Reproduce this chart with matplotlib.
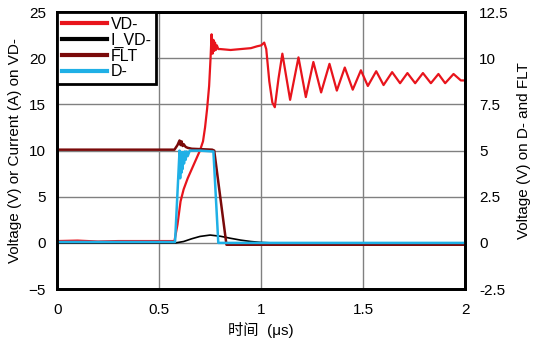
import matplotlib
matplotlib.use("Agg")
import matplotlib.pyplot as plt

plt.rcParams['font.family'] = ['Liberation Sans', 'Noto Sans CJK SC', 'DejaVu Sans']

# VD- (left axis, V)
vd_t = [0.0, 0.1, 0.2, 0.3, 0.4, 0.5, 0.575, 0.59, 0.605, 0.62, 0.64, 0.66, 0.68, 0.70,
        0.715, 0.725, 0.735, 0.745, 0.752, 0.757, 0.762, 0.766, 0.770, 0.774, 0.778,
        0.783, 0.79, 0.80, 0.85, 0.90, 0.95, 0.98, 1.0, 1.015, 1.025, 1.04, 1.055,
        1.067, 1.085, 1.104, 1.142, 1.183, 1.219, 1.256, 1.294, 1.335, 1.371, 1.410,
        1.449, 1.489, 1.523, 1.564, 1.600, 1.642, 1.681, 1.717, 1.755, 1.793, 1.832,
        1.869, 1.902, 1.943, 1.979, 2.0]
vd_v = [0.2, 0.25, 0.15, 0.2, 0.2, 0.2, 0.2, 2.0, 4.5, 5.8, 7.0, 8.0, 9.0, 10.0,
        11.0, 12.5, 14.5, 17.0, 20.0, 22.6, 20.5, 22.0, 20.8, 21.7, 20.9,
        21.4, 21.0, 21.0, 20.9, 21.0, 21.1, 21.3, 21.4, 21.7, 21.0, 17.5, 15.2,
        14.7, 17.8, 20.5, 15.5, 20.1, 15.8, 19.6, 16.3, 19.4, 16.5, 19.0,
        16.6, 18.7, 17.0, 18.6, 17.1, 18.5, 17.3, 18.4, 17.3, 18.4, 17.3,
        18.3, 17.3, 18.3, 17.6, 17.6]

# I_VD- (left axis, A)
i_t = [0.0, 0.58, 0.62, 0.66, 0.70, 0.75, 0.80, 0.85, 0.90, 0.95, 1.0, 1.05, 2.0]
i_v = [0.0, 0.0, 0.15, 0.45, 0.7, 0.85, 0.72, 0.5, 0.3, 0.15, 0.05, 0.0, 0.0]

# FLT (right axis, V)
flt_t = [0.0, 0.575, 0.59, 0.60, 0.605, 0.61, 0.615, 0.62, 0.63, 0.64, 0.66, 0.70, 0.76,
         0.77, 0.83, 1.0, 2.0]
flt_v = [5.05, 5.05, 5.3, 5.55, 5.3, 5.5, 5.25, 5.35, 5.2, 5.15, 5.1, 5.08, 5.05,
         5.0, -0.1, -0.1, -0.1]

# D- (right axis, V)
d_t = [0.0, 0.5, 0.578, 0.600, 0.603, 0.606, 0.609, 0.612, 0.615, 0.618, 0.622, 0.626,
       0.63, 0.635, 0.64, 0.65, 0.70, 0.766, 0.79, 1.0, 2.0]
d_v = [0.05, 0.05, 0.05, 5.0, 3.5, 4.9, 3.8, 4.9, 4.0, 4.9, 4.3, 4.95,
       4.5, 4.95, 4.7, 5.0, 5.0, 4.95, 0.0, 0.0, 0.0]

fig = plt.figure(figsize=(5.39, 3.47), dpi=100)
ax = fig.add_subplot(111)
fig.subplots_adjust(left=0.106, right=0.863, top=0.965, bottom=0.167)
ax2 = ax.twinx()

l1, = ax.plot(vd_t, vd_v, color="#e8141c", lw=1.6, label="VD-", solid_joinstyle="round")
l2, = ax.plot(i_t, i_v, color="black", lw=1.2, label="I_VD-")
l3, = ax2.plot(flt_t, flt_v, color="#7a0a0a", lw=1.8, label="FLT")
l4, = ax2.plot(d_t, d_v, color="#1fb0e6", lw=1.8, label="D-")

ax.set_xlim(0, 2)
ax.set_ylim(-5, 25)
ax2.set_ylim(-2.5, 12.5)
ax.set_xticks([0, 0.5, 1, 1.5, 2])
ax.set_xticklabels(["0", "0.5", "1", "1.5", "2"])
ax.set_yticks([-5, 0, 5, 10, 15, 20, 25])
ax2.set_yticks([-2.5, 0, 2.5, 5, 7.5, 10, 12.5])
ax2.set_yticklabels(["-2.5", "0", "2.5", "5", "7.5", "10", "12.5"])

ax.grid(True, color="#808080", lw=1)
ax.tick_params(axis="x", length=0, labelsize=11, pad=10)
ax.tick_params(axis="y", length=0, labelsize=11, pad=8)
ax2.tick_params(axis="y", length=0, labelsize=11, pad=10)
for a in (ax, ax2):
    for s in a.spines.values():
        s.set_linewidth(2)
        s.set_color("black")

ax.set_xlabel("时间  (μs)", fontsize=11, labelpad=4)
ax.set_ylabel("Voltage (V) or Current (A) on VD-", fontsize=11, labelpad=5)
ax2.set_ylabel("Voltage (V) on D- and FLT", fontsize=11, labelpad=6)

leg = ax2.legend(handles=[l1, l2, l3, l4], loc="upper left", bbox_to_anchor=(0, 1),
                 borderaxespad=0, fancybox=False, framealpha=1, edgecolor="black",
                 fontsize=11.5, handlelength=2.8, labelspacing=0.05, handletextpad=0.25,
                 borderpad=0.3)
leg.get_frame().set_linewidth(2)
for h in leg.legend_handles:
    h.set_linewidth(3)

fig.savefig("out.png", dpi=100)
